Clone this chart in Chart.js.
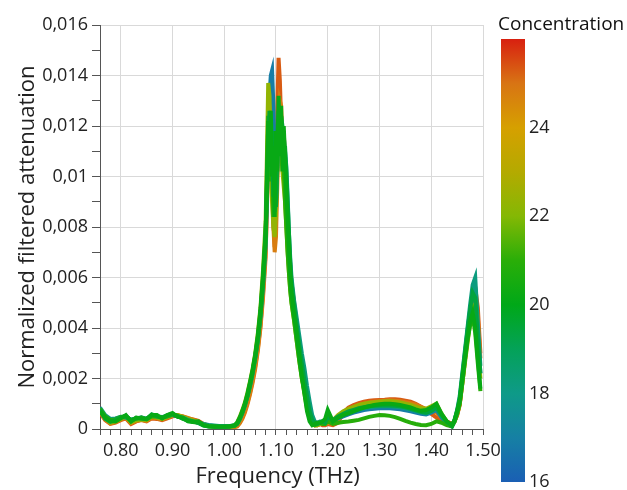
<!DOCTYPE html>
<html>
<head>
<meta charset="utf-8">
<title>Normalized filtered attenuation</title>
<script src="https://cdn.jsdelivr.net/npm/chart.js@4.4.1/dist/chart.umd.min.js"></script>
<style>
  body { margin: 0; background: #fff; overflow: hidden; }
  #wrap { position: relative; width: 627px; height: 490px; }
  #main { position: absolute; left: 0; top: 0; }
  #bar { position: absolute; left: 480px; top: 0; }
</style>
</head>
<body>
<div id="wrap">
  <canvas id="main" width="627" height="490"></canvas>
  <canvas id="bar" width="147" height="500"></canvas>
</div>
<script>
// Frequency samples (THz), finer around the main peak
const freq = [
  0.76, 0.77, 0.78, 0.79, 0.80, 0.81, 0.82, 0.83, 0.84, 0.85, 0.86, 0.87, 0.88, 0.89,
  0.90, 0.91, 0.92, 0.93, 0.94, 0.95, 0.96, 0.97, 0.98, 0.99, 1.00, 1.01, 1.02,
  1.025, 1.03, 1.035, 1.04, 1.045, 1.05, 1.055, 1.06, 1.065, 1.07, 1.075, 1.08,
  1.0825, 1.085, 1.0875, 1.09, 1.0925, 1.095, 1.0975, 1.10, 1.1025, 1.105,
  1.1075, 1.11, 1.1125, 1.115, 1.1175, 1.12, 1.1225, 1.125, 1.1275, 1.13,
  1.135, 1.14, 1.145, 1.15, 1.155, 1.16, 1.165, 1.17, 1.175, 1.18, 1.185, 1.19, 1.195, 1.20,
  1.21, 1.22, 1.23, 1.24, 1.25, 1.26, 1.27, 1.28, 1.29, 1.30, 1.31, 1.32,
  1.33, 1.34, 1.35, 1.36, 1.37, 1.38, 1.39, 1.40, 1.41, 1.42, 1.43, 1.44,
  1.445, 1.45, 1.455, 1.46, 1.465, 1.47, 1.475, 1.48, 1.485, 1.49, 1.495
];

// Normalized filtered attenuation, in units of 0.001, one array per sample
const c20 = [
  0.70, 0.45, 0.32, 0.30, 0.42, 0.55, 0.30, 0.45, 0.42, 0.40, 0.55, 0.55, 0.42, 0.55,
  0.63, 0.48, 0.45, 0.30, 0.28, 0.30, 0.15, 0.10, 0.10, 0.10, 0.10, 0.10, 0.15,
  0.25, 0.45, 0.70, 1.00, 1.40, 1.85, 2.35, 2.95, 3.70, 4.70, 6.10, 7.80,
  9.5, 12.2, 10.4, 12.6, 10.0, 11.2, 8.4, 11.8, 10.2, 13.2,
  10.8, 12.8, 10.2, 12.0, 10.8, 9.4, 8.4, 7.2, 6.2, 5.4,
  4.5, 3.8, 2.9, 2.1, 1.4, 0.7, 0.3, 0.15, 0.2, 0.25, 0.25, 0.3, 0.4, 0.75,
  0.30, 0.45, 0.55, 0.62, 0.70, 0.78, 0.85, 0.90, 0.95, 0.98, 1.00, 1.00,
  0.98, 0.95, 0.90, 0.85, 0.78, 0.72, 0.75, 0.85, 1.00, 0.60, 0.30, 0.15,
  0.35, 0.70, 1.10, 2.00, 2.80, 3.60, 4.25, 4.60, 4.00, 2.80, 1.60
];
const c19 = [
  0.75, 0.40, 0.28, 0.35, 0.45, 0.52, 0.32, 0.44, 0.42, 0.40, 0.58, 0.50, 0.45, 0.55,
  0.60, 0.50, 0.42, 0.32, 0.30, 0.24, 0.14, 0.10, 0.09, 0.09, 0.09, 0.10, 0.14,
  0.22, 0.42, 0.68, 0.98, 1.35, 1.80, 2.30, 2.90, 3.62, 4.60, 5.95, 7.70,
  9.8, 11.0, 12.6, 10.4, 11.8, 9.2, 10.6, 8.8, 11.6, 12.6,
  11.0, 12.4, 12.0, 10.8, 11.2, 10.2, 9.0, 7.8, 6.6, 5.8,
  4.9, 4.1, 3.3, 2.6, 1.9, 1.3, 0.7, 0.35, 0.25, 0.2, 0.25, 0.3, 0.25, 0.5,
  0.35, 0.50, 0.60, 0.70, 0.76, 0.82, 0.86, 0.90, 0.92, 0.93, 0.94, 0.93,
  0.92, 0.90, 0.86, 0.80, 0.74, 0.68, 0.65, 0.72, 0.85, 0.55, 0.28, 0.12,
  0.35, 0.72, 1.20, 2.10, 3.00, 3.90, 4.70, 5.40, 5.20, 3.60, 2.20
];
const c21 = [
  0.80, 0.50, 0.35, 0.38, 0.48, 0.50, 0.35, 0.40, 0.45, 0.38, 0.50, 0.50, 0.45, 0.50,
  0.58, 0.52, 0.40, 0.35, 0.28, 0.25, 0.15, 0.12, 0.10, 0.08, 0.08, 0.10, 0.12,
  0.20, 0.40, 0.65, 0.95, 1.30, 1.75, 2.25, 2.85, 3.55, 4.50, 5.80, 7.50,
  10.2, 12.4, 9.8, 11.6, 10.8, 8.4, 9.8, 8.8, 10.6, 12.2,
  11.3, 12.4, 11.0, 10.4, 9.0, 8.0, 7.0, 6.2, 5.5, 5.0,
  4.3, 3.5, 2.7, 2.0, 1.5, 0.9, 0.4, 0.2, 0.15, 0.2, 0.25, 0.2, 0.2, 0.3,
  0.20, 0.25, 0.28, 0.30, 0.33, 0.36, 0.42, 0.48, 0.52, 0.55, 0.54, 0.52,
  0.47, 0.40, 0.32, 0.25, 0.20, 0.16, 0.15, 0.20, 0.30, 0.25, 0.15, 0.10,
  0.30, 0.60, 1.00, 1.80, 2.70, 3.50, 4.10, 4.50, 3.80, 2.60, 1.50
];
const c18 = [
  0.85, 0.55, 0.40, 0.42, 0.48, 0.45, 0.38, 0.42, 0.46, 0.40, 0.52, 0.50, 0.48, 0.50,
  0.56, 0.50, 0.45, 0.36, 0.30, 0.26, 0.20, 0.16, 0.14, 0.12, 0.12, 0.12, 0.14,
  0.20, 0.38, 0.62, 0.92, 1.30, 1.70, 2.20, 2.80, 3.50, 4.40, 5.70, 7.30,
  9.2, 10.5, 11.8, 12.4, 11.5, 9.8, 8.6, 9.0, 10.2, 11.8,
  12.6, 12.0, 11.2, 10.6, 11.0, 10.4, 9.2, 7.8, 6.8, 6.0,
  5.1, 4.4, 3.7, 3.0, 2.4, 1.7, 1.1, 0.55, 0.3, 0.25, 0.3, 0.3, 0.3, 0.45,
  0.30, 0.45, 0.55, 0.65, 0.72, 0.78, 0.82, 0.86, 0.88, 0.90, 0.90, 0.90,
  0.88, 0.86, 0.82, 0.78, 0.72, 0.66, 0.62, 0.70, 0.82, 0.50, 0.25, 0.12,
  0.35, 0.75, 1.30, 2.20, 3.10, 4.00, 4.90, 5.70, 6.00, 4.20, 2.50
];
const c22 = [
  0.72, 0.42, 0.25, 0.30, 0.40, 0.48, 0.26, 0.35, 0.38, 0.36, 0.48, 0.45, 0.40, 0.48,
  0.55, 0.55, 0.48, 0.40, 0.34, 0.28, 0.16, 0.12, 0.10, 0.08, 0.08, 0.08, 0.12,
  0.25, 0.48, 0.75, 1.05, 1.45, 1.90, 2.40, 3.00, 3.80, 4.80, 6.30, 8.20,
  10.8, 13.7, 13.2, 10.6, 9.0, 8.0, 7.6, 8.6, 10.2, 11.8,
  12.0, 11.0, 10.2, 9.6, 9.0, 8.0, 7.0, 6.2, 5.5, 5.0,
  4.3, 3.5, 2.7, 2.0, 1.4, 0.8, 0.4, 0.2, 0.15, 0.15, 0.2, 0.2, 0.2, 0.3,
  0.35, 0.55, 0.70, 0.80, 0.88, 0.95, 1.00, 1.04, 1.06, 1.08, 1.10, 1.10,
  1.08, 1.05, 1.00, 0.95, 0.88, 0.82, 0.80, 0.90, 1.00, 0.60, 0.30, 0.12,
  0.30, 0.60, 1.00, 1.80, 2.60, 3.40, 4.20, 4.90, 4.80, 3.40, 2.00
];
const c17 = [
  0.78, 0.48, 0.36, 0.40, 0.46, 0.50, 0.34, 0.42, 0.44, 0.40, 0.54, 0.48, 0.46, 0.52,
  0.56, 0.50, 0.44, 0.34, 0.30, 0.24, 0.18, 0.14, 0.12, 0.11, 0.11, 0.11, 0.14,
  0.22, 0.40, 0.65, 0.95, 1.32, 1.75, 2.25, 2.85, 3.55, 4.50, 5.80, 7.40,
  9.6, 11.6, 13.2, 14.0, 14.2, 12.8, 10.6, 9.4, 10.4, 11.8,
  12.4, 12.0, 11.0, 10.2, 9.4, 8.4, 7.4, 6.5, 5.8, 5.2,
  4.5, 3.8, 3.0, 2.4, 1.8, 1.1, 0.55, 0.3, 0.2, 0.2, 0.25, 0.3, 0.3, 0.5,
  0.30, 0.42, 0.50, 0.58, 0.65, 0.70, 0.75, 0.78, 0.80, 0.82, 0.82, 0.82,
  0.80, 0.78, 0.74, 0.70, 0.65, 0.60, 0.58, 0.65, 0.75, 0.45, 0.22, 0.10,
  0.30, 0.65, 1.10, 2.00, 2.90, 3.80, 4.60, 5.30, 5.50, 3.80, 2.20
];
const c24 = [
  0.68, 0.38, 0.22, 0.28, 0.38, 0.45, 0.23, 0.32, 0.36, 0.32, 0.45, 0.42, 0.38, 0.45,
  0.52, 0.54, 0.50, 0.44, 0.36, 0.30, 0.18, 0.12, 0.10, 0.08, 0.08, 0.08, 0.08,
  0.10, 0.22, 0.40, 0.65, 0.98, 1.38, 1.85, 2.40, 3.10, 4.00, 5.20, 6.80,
  9.0, 11.8, 13.6, 12.0, 9.6, 8.0, 7.0, 7.6, 9.6, 11.8,
  13.0, 12.8, 11.4, 10.2, 9.6, 8.8, 7.8, 6.8, 6.0, 5.3,
  4.6, 3.9, 3.0, 2.2, 1.6, 0.9, 0.45, 0.25, 0.15, 0.15, 0.2, 0.2, 0.2, 0.25,
  0.20, 0.35, 0.55, 0.72, 0.85, 0.95, 1.00, 1.05, 1.08, 1.10, 1.12, 1.14,
  1.12, 1.10, 1.06, 1.02, 0.96, 0.88, 0.80, 0.70, 0.65, 0.45, 0.30, 0.18,
  0.30, 0.55, 1.00, 1.90, 2.80, 3.80, 4.60, 5.20, 5.30, 4.40, 2.80
];
const c25 = [
  0.65, 0.35, 0.20, 0.25, 0.35, 0.42, 0.20, 0.30, 0.35, 0.30, 0.42, 0.40, 0.35, 0.42,
  0.50, 0.52, 0.50, 0.42, 0.38, 0.32, 0.20, 0.14, 0.10, 0.08, 0.08, 0.08, 0.08,
  0.12, 0.25, 0.45, 0.72, 1.05, 1.45, 1.95, 2.50, 3.20, 4.10, 5.40, 7.00,
  8.8, 10.2, 12.8, 13.6, 11.0, 8.4, 7.2, 9.8, 12.6, 14.7,
  13.8, 12.2, 10.8, 11.8, 10.6, 9.6, 8.4, 7.4, 6.5, 5.8,
  5.0, 4.2, 3.3, 2.4, 1.7, 1.0, 0.45, 0.25, 0.15, 0.15, 0.2, 0.15, 0.15, 0.2,
  0.15, 0.25, 0.65, 0.85, 0.95, 1.02, 1.08, 1.12, 1.14, 1.15, 1.16, 1.18,
  1.18, 1.16, 1.12, 1.08, 1.00, 0.88, 0.75, 0.60, 0.45, 0.35, 0.30, 0.20,
  0.30, 0.55, 0.95, 1.80, 2.70, 3.60, 4.50, 5.30, 5.60, 4.80, 3.00
];

// first one is drawn on top
const curves = [c20, c19, c21, c18, c22, c17, c24, c25];
const concentration = [20.2, 19.4, 20.9, 18.2, 22.3, 16.9, 24.8, 25.3];

// colour scale of the concentration bar
const colormap = [
  [16, '#1a5fb4'], [17, '#1680a4'], [18, '#0e9a88'], [19, '#04a258'], [20, '#00a818'],
  [21, '#2aae08'], [22, '#84b804'], [23, '#b4aa00'], [24, '#d6a000'], [25, '#d87414'],
  [26, '#d82010']
];

function hexToRgb(h) {
  return [1, 3, 5].map(i => parseInt(h.substr(i, 2), 16));
}

function colorFor(v) {
  for (let i = 0; i < colormap.length - 1; i++) {
    const [v0, h0] = colormap[i], [v1, h1] = colormap[i + 1];
    if (v >= v0 && v <= v1) {
      const t = (v - v0) / (v1 - v0);
      const a = hexToRgb(h0), b = hexToRgb(h1);
      return 'rgb(' + a.map((x, k) => Math.round(x + (b[k] - x) * t)).join(',') + ')';
    }
  }
  return colormap[colormap.length - 1][1];
}

Chart.defaults.font.family = '"Open Sans", sans-serif';
Chart.defaults.color = '#222';

const isMajorX = v => Math.round(v * 100) % 10 === 0;
const isMajorY = v => Math.round(v) % 2 === 0;

new Chart(document.getElementById('main'), {
  type: 'line',
  data: {
    datasets: curves.map((vals, i) => ({
      data: freq.map((f, j) => ({ x: f, y: vals[j] })),
      borderColor: colorFor(concentration[i]),
      borderWidth: 4,
      pointRadius: 0,
      tension: 0,
      fill: false
    }))
  },
  options: {
    responsive: false,
    animation: false,
    devicePixelRatio: 1,
    layout: { padding: { left: 0, top: 25, right: 144, bottom: 0 } },
    plugins: { legend: { display: false }, tooltip: { enabled: false } },
    scales: {
      x: {
        type: 'linear',
        min: 0.76,
        max: 1.5,
        ticks: {
          stepSize: 0.02,
          autoSkip: false,
          maxRotation: 0,
          padding: 5,
          font: { size: 18 },
          callback: v => isMajorX(v) ? v.toFixed(2) : ''
        },
        grid: {
          color: c => (c.tick && isMajorX(c.tick.value)) ? '#d9d9d9' : 'rgba(0,0,0,0)',
          tickColor: '#555',
          tickLength: 6
        },
        border: { color: '#555' },
        title: {
          display: true,
          // trailing em space nudges the centred title a little to the left
          text: 'Frequency (THz)\u2003 ',
          font: { size: 22 },
          color: '#222',
          padding: { top: 0, bottom: 0 }
        },
        afterFit: s => { s.height = 61; }
      },
      y: {
        min: 0,
        max: 16,
        ticks: {
          stepSize: 1,
          autoSkip: false,
          padding: 4,
          font: { size: 18 },
          callback: v => isMajorY(v) ? String(v / 1000).replace('.', ',') : ''
        },
        grid: {
          color: c => (c.tick && isMajorY(c.tick.value)) ? '#d9d9d9' : 'rgba(0,0,0,0)',
          tickColor: '#555',
          tickLength: 8
        },
        border: { color: '#555' },
        title: {
          display: true,
          text: 'Normalized filtered attenuation',
          font: { size: 22 },
          color: '#222',
          padding: { top: 15, bottom: 0 }
        },
        afterFit: s => { s.width = 100; }
      }
    }
  }
});

// colour bar: gradient drawn in the chart area, labels from the y scale
const colorbarPlugin = {
  id: 'colorbar',
  beforeDraw(chart) {
    const { ctx, chartArea: a, scales: { y } } = chart;
    const y0 = y.getPixelForValue(16), y1 = y.getPixelForValue(26);
    const g = ctx.createLinearGradient(0, y0, 0, y1);
    colormap.forEach(([v, c]) => g.addColorStop((v - 16) / 10, c));
    ctx.save();
    ctx.fillStyle = g;
    ctx.fillRect(a.left, a.top, a.right - a.left, a.bottom - a.top);
    ctx.fillStyle = '#111';
    ctx.font = '19px "Open Sans"';
    ctx.textBaseline = 'middle';
    ctx.fillText('Concentration', a.left - 3, 25);
    ctx.restore();
  }
};

new Chart(document.getElementById('bar'), {
  type: 'scatter',
  data: { datasets: [] },
  options: {
    responsive: false,
    animation: false,
    devicePixelRatio: 1,
    layout: { padding: { left: 21, top: 39, right: 0, bottom: 18 } },
    plugins: { legend: { display: false }, tooltip: { enabled: false } },
    scales: {
      x: { display: false },
      y: {
        position: 'right',
        min: 16,
        max: 26,
        ticks: {
          stepSize: 2,
          padding: 4,
          font: { size: 18 },
          callback: v => v < 25 ? v : ''
        },
        grid: { display: false, drawTicks: false },
        border: { display: false },
        afterFit: s => { s.width = 102; }
      }
    }
  },
  plugins: [colorbarPlugin]
});
</script>
</body>
</html>
